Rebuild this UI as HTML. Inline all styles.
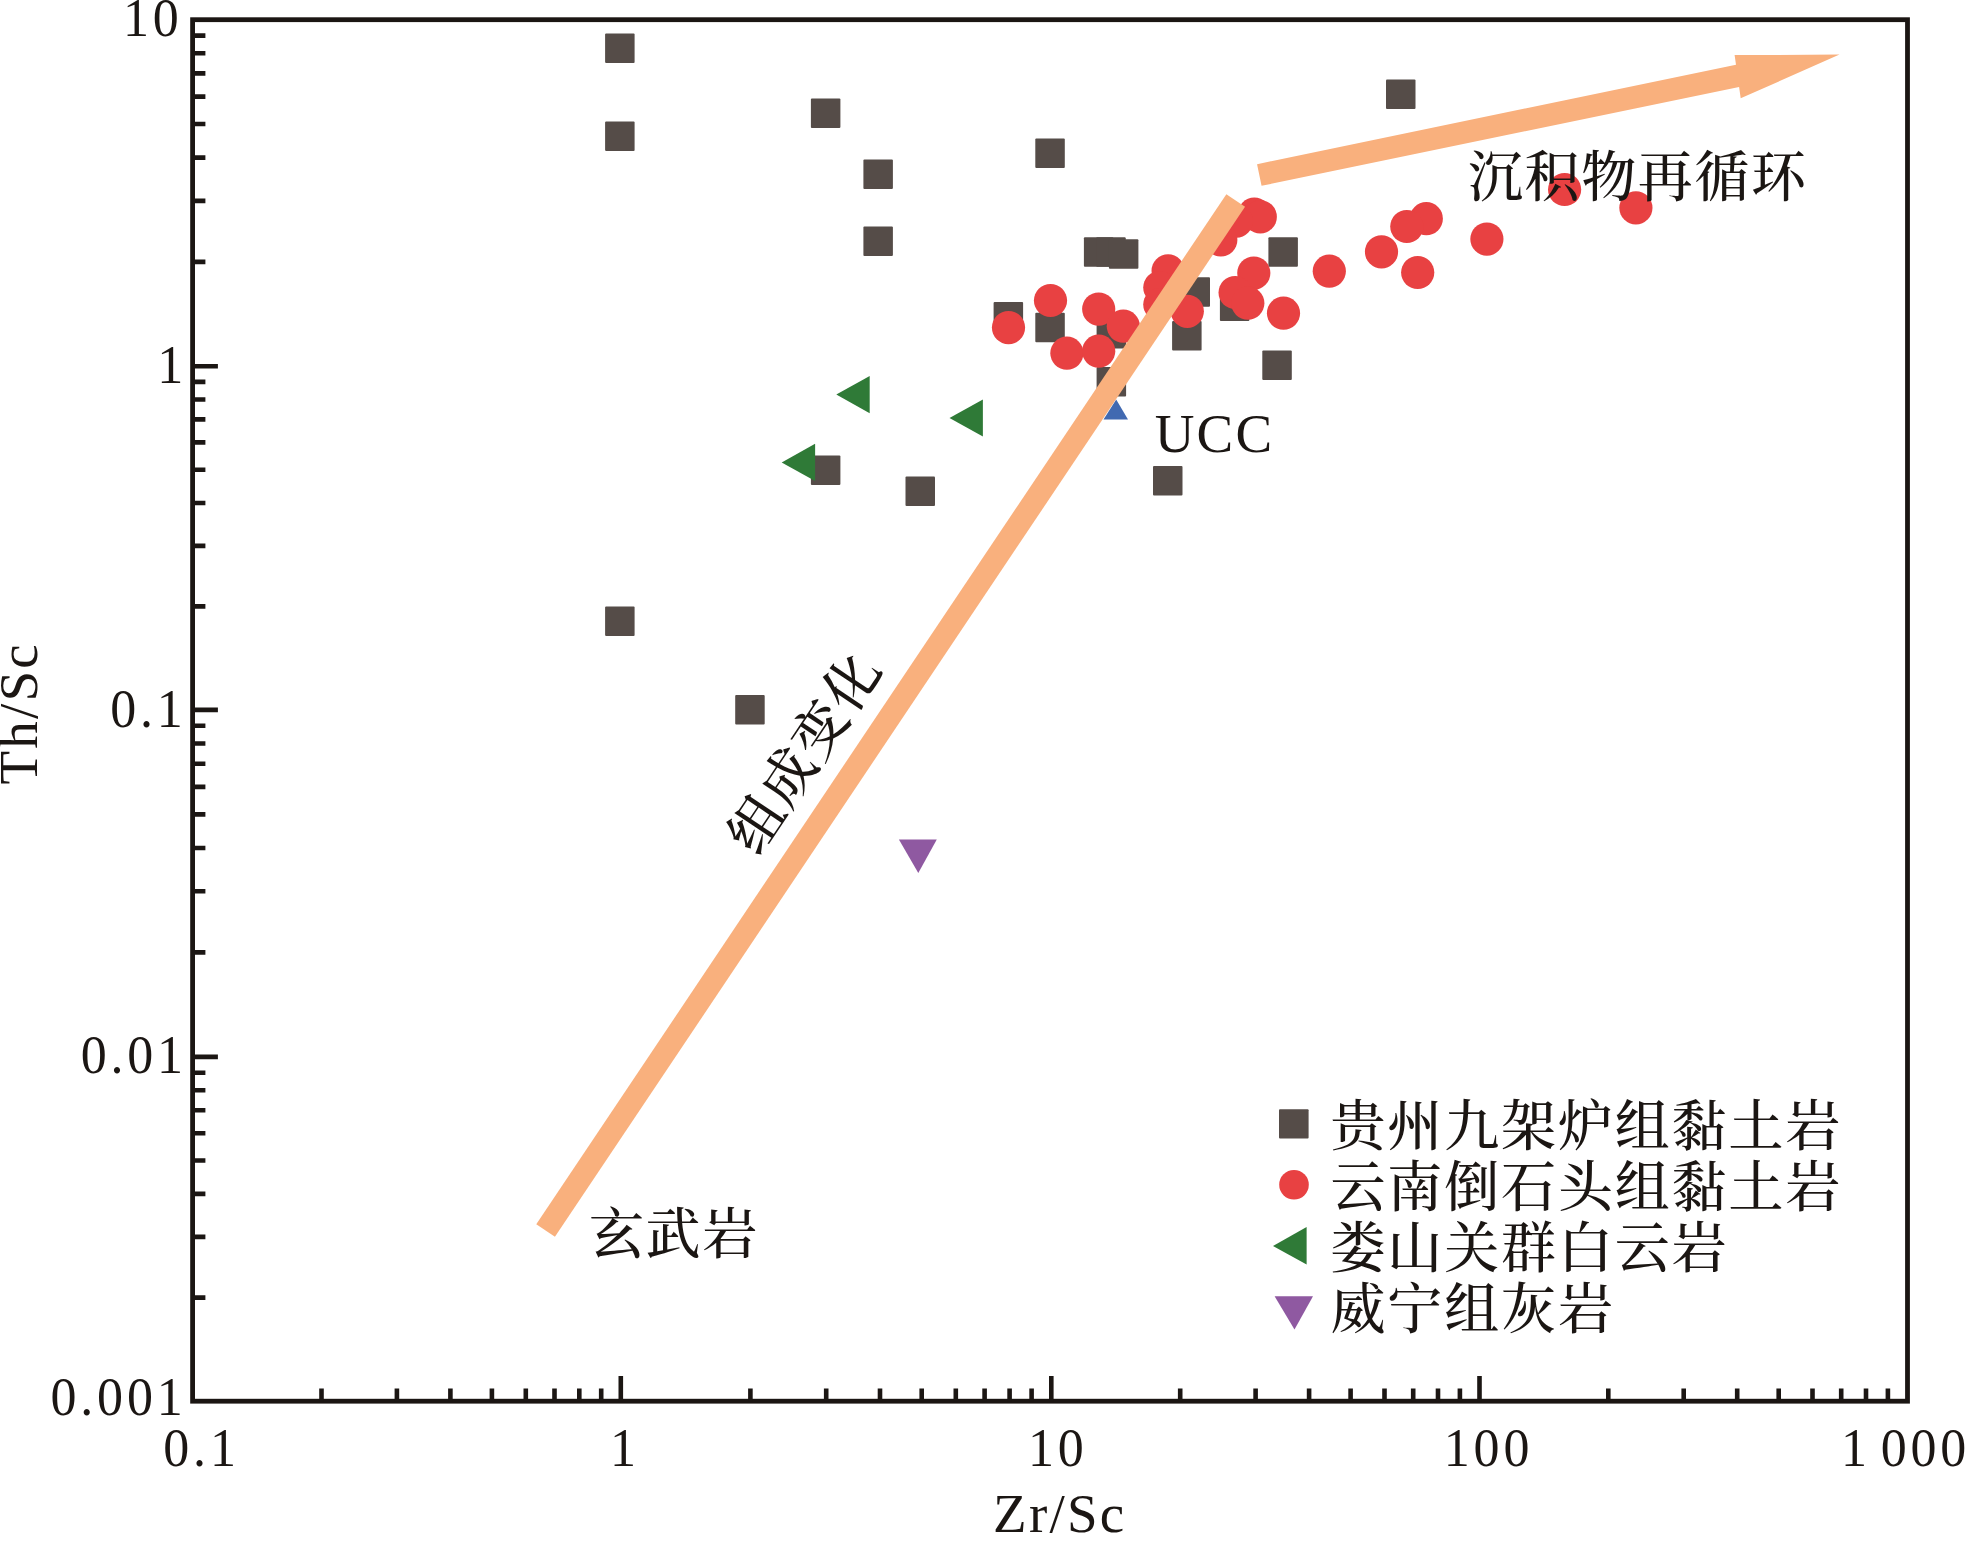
<!DOCTYPE html>
<html lang="zh"><head><meta charset="utf-8"><title>Th/Sc - Zr/Sc</title>
<style>html,body{margin:0;padding:0;background:#fff}svg{display:block}text{font-family:"Liberation Serif","Noto Serif CJK SC",serif;fill:#1b1613}.n{font-size:52px;letter-spacing:3.8px}.c{font-size:55px;letter-spacing:1.6px;font-weight:500}.l{font-size:55px;letter-spacing:2.2px}</style></head><body>
<svg width="1966" height="1561" viewBox="0 0 1966 1561">
<rect width="1966" height="1561" fill="#fff"/>
<g fill="#554c48">
<rect x="605.1" y="33.4" width="29.5" height="29.5" rx="1"/>
<rect x="605.1" y="121.5" width="29.5" height="29.5" rx="1"/>
<rect x="810.9" y="98.5" width="29.5" height="29.5" rx="1"/>
<rect x="863.4" y="159.4" width="29.5" height="29.5" rx="1"/>
<rect x="863.4" y="226.6" width="29.5" height="29.5" rx="1"/>
<rect x="1035.3" y="138.4" width="29.5" height="29.5" rx="1"/>
<rect x="1386.0" y="79.4" width="29.5" height="29.5" rx="1"/>
<rect x="1083.9" y="237.3" width="29.5" height="29.5" rx="1"/>
<rect x="1096.2" y="237.3" width="29.5" height="29.5" rx="1"/>
<rect x="1108.9" y="239.3" width="29.5" height="29.5" rx="1"/>
<rect x="1268.4" y="237.3" width="29.5" height="29.5" rx="1"/>
<rect x="993.6" y="302.1" width="29.5" height="29.5" rx="1"/>
<rect x="1035.3" y="312.8" width="29.5" height="29.5" rx="1"/>
<rect x="1096.6" y="319.1" width="29.5" height="29.5" rx="1"/>
<rect x="1096.6" y="367.1" width="29.5" height="29.5" rx="1"/>
<rect x="1172.1" y="321.1" width="29.5" height="29.5" rx="1"/>
<rect x="1180.5" y="277.2" width="29.5" height="29.5" rx="1"/>
<rect x="1219.9" y="291.4" width="29.5" height="29.5" rx="1"/>
<rect x="1262.3" y="350.6" width="29.5" height="29.5" rx="1"/>
<rect x="1153.0" y="466.1" width="29.5" height="29.5" rx="1"/>
<rect x="810.9" y="455.6" width="29.5" height="29.5" rx="1"/>
<rect x="905.5" y="476.6" width="29.5" height="29.5" rx="1"/>
<rect x="605.1" y="606.6" width="29.5" height="29.5" rx="1"/>
<rect x="735.2" y="695.0" width="29.5" height="29.5" rx="1"/>
</g>
<g fill="#e84142">
<circle cx="1008.5" cy="327.6" r="16.6"/>
<circle cx="1050.5" cy="300.5" r="16.6"/>
<circle cx="1066.9" cy="353.2" r="16.6"/>
<circle cx="1098.7" cy="309.1" r="16.6"/>
<circle cx="1098.7" cy="351.2" r="16.6"/>
<circle cx="1123.3" cy="326.2" r="16.6"/>
<circle cx="1168.1" cy="270.9" r="16.6"/>
<circle cx="1159.8" cy="287.5" r="16.6"/>
<circle cx="1159.8" cy="304.5" r="16.6"/>
<circle cx="1187.3" cy="311.3" r="16.6"/>
<circle cx="1253.8" cy="273.1" r="16.6"/>
<circle cx="1235.1" cy="292.5" r="16.6"/>
<circle cx="1247.8" cy="303.2" r="16.6"/>
<circle cx="1283.5" cy="313.2" r="16.6"/>
<circle cx="1329.3" cy="271.2" r="16.6"/>
<circle cx="1254.3" cy="214.2" r="16.6"/>
<circle cx="1260.3" cy="216.8" r="16.6"/>
<circle cx="1236.4" cy="221.1" r="16.6"/>
<circle cx="1220.8" cy="239.9" r="16.6"/>
<circle cx="1564.6" cy="189.5" r="16.6"/>
<circle cx="1635.9" cy="207.8" r="16.6"/>
<circle cx="1486.9" cy="239.1" r="16.6"/>
<circle cx="1426.3" cy="218.7" r="16.6"/>
<circle cx="1406.8" cy="226.5" r="16.6"/>
<circle cx="1381.5" cy="251.8" r="16.6"/>
<circle cx="1417.7" cy="272.5" r="16.6"/>
</g>
<g fill="#2f7a37">
<path d="M836.3 394.6L869.7 376.0V413.2Z"/>
<path d="M949.5 418.0L982.9 399.4V436.6Z"/>
<path d="M781.7 462.4L815.1 443.8V481.0Z"/>
</g>
<path fill="#8f59a1" d="M898.9 839.5H936.8L918.3 873.1Z"/>
<path fill="#4169b1" d="M1116.2 399.5L1128 419.4H1103.5Z"/>
<line x1="545.6" y1="1230.55" x2="1235.7" y2="200.45" stroke="#f9b07d" stroke-width="22.5"/>
<polygon fill="#f9b07d" points="1257.05,164.2 1736,64.7 1734.6,55.1 1839.5,54.6 1740.7,98.3 1739.1,87 1261.55,185.8"/>
<rect x="192.6" y="19.7" width="1714.9" height="1381.5" fill="none" stroke="#1b1613" stroke-width="4.8"/>
<path d="M321.5 1401.2v-12.8M192.6 1297.6h12.8M396.9 1401.2v-12.8M192.6 1236.9h12.8M450.4 1401.2v-12.8M192.6 1193.9h12.8M491.9 1401.2v-12.8M192.6 1160.5h12.8M525.8 1401.2v-12.8M192.6 1133.3h12.8M554.5 1401.2v-12.8M192.6 1110.2h12.8M579.3 1401.2v-12.8M192.6 1090.3h12.8M601.2 1401.2v-12.8M192.6 1072.7h12.8M620.8 1401.2v-25.3M192.6 1056.9h25.3M750.4 1401.2v-12.8M192.6 952.4h12.8M826.2 1401.2v-12.8M192.6 891.3h12.8M880.0 1401.2v-12.8M192.6 848.0h12.8M921.7 1401.2v-12.8M192.6 814.4h12.8M955.8 1401.2v-12.8M192.6 786.9h12.8M984.6 1401.2v-12.8M192.6 763.7h12.8M1009.6 1401.2v-12.8M192.6 743.5h12.8M1031.6 1401.2v-12.8M192.6 725.8h12.8M1051.3 1401.2v-25.3M192.6 709.9h25.3M1180.2 1401.2v-12.8M192.6 606.4h12.8M1255.6 1401.2v-12.8M192.6 545.9h12.8M1309.1 1401.2v-12.8M192.6 503.0h12.8M1350.6 1401.2v-12.8M192.6 469.7h12.8M1384.5 1401.2v-12.8M192.6 442.4h12.8M1413.2 1401.2v-12.8M192.6 419.4h12.8M1438.0 1401.2v-12.8M192.6 399.5h12.8M1459.9 1401.2v-12.8M192.6 381.9h12.8M1479.5 1401.2v-25.3M192.6 366.2h25.3M1608.3 1401.2v-12.8M192.6 261.9h12.8M1683.7 1401.2v-12.8M192.6 200.9h12.8M1737.2 1401.2v-12.8M192.6 157.6h12.8M1778.7 1401.2v-12.8M192.6 124.0h12.8M1812.5 1401.2v-12.8M192.6 96.6h12.8M1841.2 1401.2v-12.8M192.6 73.4h12.8M1866.0 1401.2v-12.8M192.6 53.3h12.8M1887.9 1401.2v-12.8M192.6 35.6h12.8" stroke="#1b1613" stroke-width="4.6" fill="none"/>
<text class="n" transform="translate(122.9 35.7) scale(1 1.05)">10</text>
<text class="n" transform="translate(157.2 382.8) scale(1 1.05)">1</text>
<text class="n" transform="translate(110.2 726.8) scale(1 1.05)">0.1</text>
<text class="n" transform="translate(80.7 1072.9) scale(1 1.05)">0.01</text>
<text class="n" transform="translate(50.5 1414.7) scale(1 1.05)">0.001</text>
<text class="n" transform="translate(163.3 1465.7) scale(1 1.05)">0.1</text>
<text class="n" transform="translate(610.1 1465.7) scale(1 1.05)">1</text>
<text class="n" transform="translate(1027.9 1465.7) scale(1 1.05)">10</text>
<text class="n" transform="translate(1443.8 1465.7) scale(1 1.05)">100</text>
<text class="n" transform="translate(1840.9 1465.7) scale(1 1.05)">1 <tspan dx="-6.7">000</tspan></text>
<text class="l" x="993.1" y="1531.8">Zr/Sc</text>
<text class="l" transform="translate(36.8 784.6) rotate(-90)">Th/Sc</text>
<text class="l" x="1154.7" y="451.8">UCC</text>
<text class="c" x="1468" y="196">沉积物再循环</text>
<text class="c" x="589" y="1253.3">玄武岩</text>
<text class="c" transform="translate(757.4 857.7) rotate(-56.2)" style="letter-spacing:1.9px">组成变化</text>
<rect x="1279" y="1109.2" width="29.6" height="29.2" rx="1" fill="#554c48"/>
<circle cx="1294" cy="1184.7" r="14.8" fill="#e84142"/>
<path fill="#2f7a37" d="M1273 1246L1306.6 1227.1V1264.6Z"/>
<path fill="#8f59a1" d="M1274.6 1296.2H1313L1294.5 1329.4Z"/>
<text class="c" x="1330.5" y="1144.5" style="letter-spacing:1.85px">贵州九架炉组黏土岩</text>
<text class="c" x="1330.5" y="1205.7" style="letter-spacing:1.85px">云南倒石头组黏土岩</text>
<text class="c" x="1330.5" y="1266.9" style="letter-spacing:1.85px">娄山关群白云岩</text>
<text class="c" x="1330.5" y="1328.1" style="letter-spacing:1.85px">威宁组灰岩</text>
</svg></body></html>
